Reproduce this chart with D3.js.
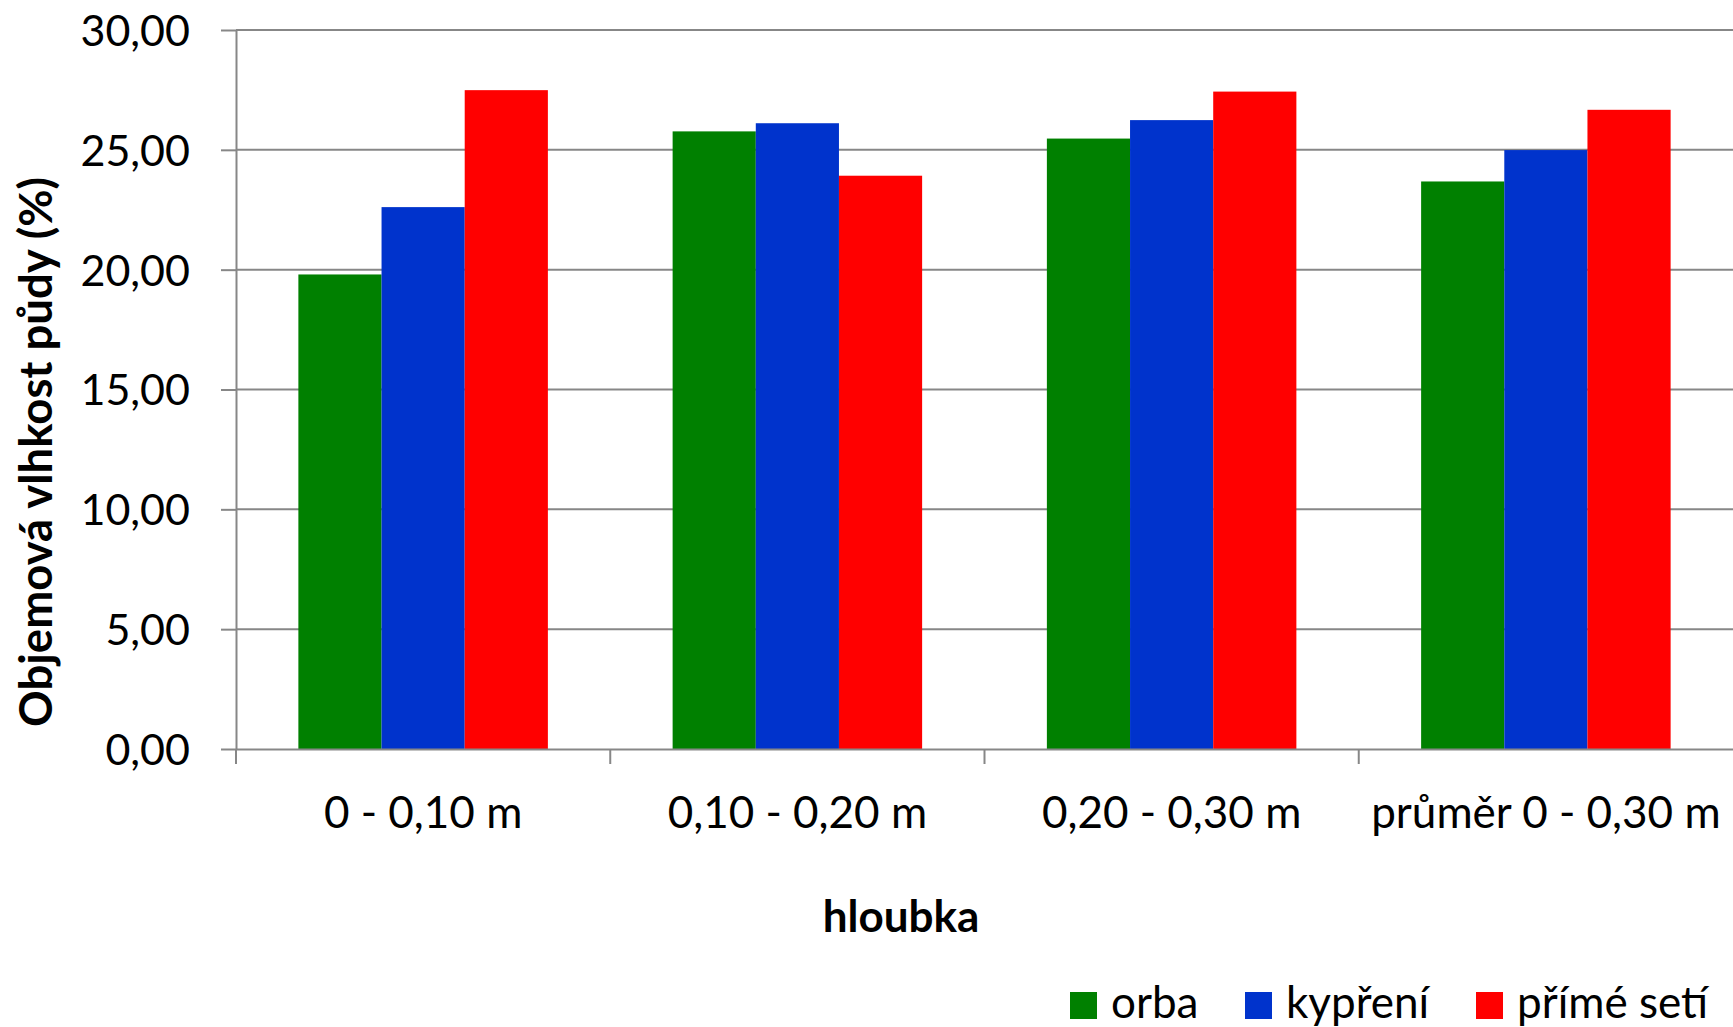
<!DOCTYPE html>
<html>
<head>
<meta charset="utf-8">
<script src="https://cdn.jsdelivr.net/npm/d3@7"></script>
<style>
  html, body { margin: 0; padding: 0; background: #ffffff; }
  svg { display: block; }
  text { font-family: Lato, "Open Sans", sans-serif; fill: #000; }
</style>
</head>
<body>
<svg id="chart" width="1733" height="1027"></svg>
<script>
// ---- data ----
const categories = ["0 - 0,10 m", "0,10 - 0,20 m", "0,20 - 0,30 m", "průměr 0 - 0,30 m"];
const seriesNames = ["orba", "kypření", "přímé setí"];
const orba = [19.80, 25.77, 25.47, 23.68];
const kypreni = [22.61, 26.11, 26.24, 24.99];
const primeSeti = [27.49, 23.92, 27.43, 26.67];
const yTicks = [0, 5, 10, 15, 20, 25, 30];
const yTitle = "Objemová vlhkost půdy (%)";
const xTitle = "hloubka";

const seriesValues = [orba, kypreni, primeSeti];
const colors = ["#008000", "#0033CC", "#FF0000"];

const plotLeft = 236, plotRight = 1733, plotTop = 30, plotBottom = 749;

const svg = d3.select("#chart");
const comma = d3.formatLocale({decimal: ",", thousands: " ", grouping: [3], currency: ["", ""]}).format(".2f");

const y = d3.scaleLinear().domain([0, 30]).range([plotBottom, plotTop]);
const x0 = d3.scaleBand().domain(categories).range([plotLeft, plotRight]).paddingInner(0).paddingOuter(0);
const x1 = d3.scaleBand().domain(seriesNames).range([0, x0.bandwidth()]).paddingInner(0).paddingOuter(0.75);

// gridlines
svg.append("g").selectAll("line").data(yTicks.filter(d => d > 0)).join("line")
  .attr("x1", plotLeft).attr("x2", plotRight)
  .attr("y1", d => y(d)).attr("y2", d => y(d))
  .attr("stroke", "#878787").attr("stroke-width", 2);

// bars
const rows = categories.map((c, i) => ({cat: c, vals: seriesNames.map((s, j) => ({s, j, v: seriesValues[j][i]}))}));
svg.append("g").selectAll("g").data(rows).join("g")
  .attr("transform", d => `translate(${x0(d.cat)},0)`)
  .selectAll("rect").data(d => d.vals).join("rect")
  .attr("x", d => x1(d.s))
  .attr("width", x1.bandwidth())
  .attr("y", d => y(d.v))
  .attr("height", d => y(0) - y(d.v))
  .attr("fill", d => colors[d.j]);

// y axis
const yAxis = svg.append("g").attr("transform", `translate(${plotLeft},0)`)
  .call(d3.axisLeft(y).tickValues(yTicks).tickFormat(comma).tickSizeInner(15).tickSizeOuter(0).tickPadding(31));
yAxis.select(".domain").attr("stroke", "#878787").attr("stroke-width", 2);
yAxis.selectAll(".tick line").attr("stroke", "#878787").attr("stroke-width", 2);
yAxis.selectAll(".tick text").style("font-family", "Lato, sans-serif").style("font-size", "43px").attr("fill", "#000").attr("dy", "0.36em");

// x axis
const xAxis = svg.append("g").attr("transform", `translate(0,${plotBottom})`)
  .call(d3.axisBottom(x0).tickSize(0).tickPadding(48));
xAxis.select(".domain").attr("stroke", "#878787").attr("stroke-width", 2);
xAxis.selectAll(".tick text").style("font-family", "Lato, sans-serif").style("font-size", "44px").attr("fill", "#000");
// category boundary ticks
xAxis.append("g").selectAll("line").data(categories).join("line")
  .attr("x1", d => x0(d)).attr("x2", d => x0(d))
  .attr("y1", 0).attr("y2", 15)
  .attr("stroke", "#878787").attr("stroke-width", 2);

// axis titles
svg.append("text")
  .attr("transform", `translate(52,452) rotate(-90)`)
  .attr("text-anchor", "middle")
  .style("font-size", "45.5px").style("font-weight", "bold")
  .text(yTitle);

svg.append("text")
  .attr("x", 901).attr("y", 932)
  .attr("text-anchor", "middle")
  .style("font-size", "44px").style("font-weight", "bold")
  .text(xTitle);

// legend
const legendX = [1070, 1245, 1476];
const lg = svg.append("g").selectAll("g").data(seriesNames).join("g")
  .attr("transform", (d, i) => `translate(${legendX[i]},992)`);
lg.append("rect").attr("width", 27).attr("height", 27).attr("fill", (d, i) => colors[i]);
lg.append("text").attr("x", 41).attr("y", 26)
  .style("font-size", "44px").text(d => d);
</script>
</body>
</html>
